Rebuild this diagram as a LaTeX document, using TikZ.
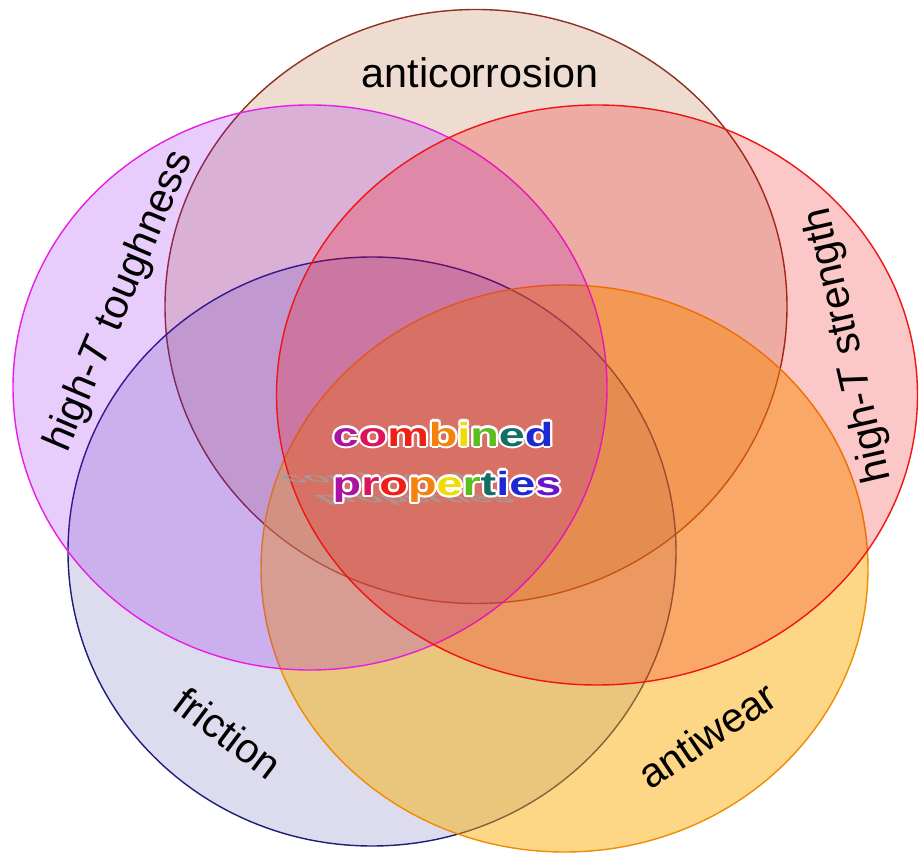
\documentclass[tikz,border=0pt]{standalone}
\usepackage{fontspec}
\setmainfont{Liberation Sans}
\usetikzlibrary{calc}

\definecolor{corrfill}{RGB}{160,60,0}
\definecolor{corrline}{RGB}{140,50,30}
\definecolor{toughfill}{RGB}{140,0,240}
\definecolor{toughline}{RGB}{230,30,230}
\definecolor{strengthfill}{RGB}{240,0,0}
\definecolor{strengthline}{RGB}{240,20,20}
\definecolor{frictionfill}{RGB}{60,60,160}
\definecolor{frictionline}{RGB}{30,30,120}
\definecolor{wearfill}{RGB}{250,172,0}
\definecolor{wearline}{RGB}{240,140,0}

% rainbow letters
\definecolor{rbA}{RGB}{170,20,160}
\definecolor{rbB}{RGB}{220,20,90}
\definecolor{rbC}{RGB}{240,30,20}
\definecolor{rbD}{RGB}{245,130,10}
\definecolor{rbE}{RGB}{240,220,0}
\definecolor{rbF}{RGB}{90,190,30}
\definecolor{rbG}{RGB}{20,110,100}
\definecolor{rbH}{RGB}{30,40,210}
\definecolor{rbI}{RGB}{110,20,200}

\newif\ifwhiteglow
\newcommand\rbl[2]{\ifwhiteglow#2\else\textcolor{#1}{#2}\fi}
\newcommand\combinedtext{%
  \rbl{rbA}{c}\rbl{rbB}{o}\rbl{rbC}{m}\rbl{rbD}{b}\rbl{rbE}{i}\rbl{rbF}{n}\rbl{rbG}{e}\rbl{rbH}{d}\\
  \rbl{rbA}{p}\rbl{rbB}{r}\rbl{rbC}{o}\rbl{rbD}{p}\rbl{rbE}{e}\rbl{rbF}{r}\rbl{rbG}{t}\rbl{rbH}{i}\rbl{rbH}{e}\rbl{rbI}{s}}

\begin{document}
\begin{tikzpicture}[
    setline/.style={line width=0.8pt},
    setlabel/.style={font=\fontsize{23.5}{28}\selectfont, inner sep=0pt},
    combo/.style={font=\bfseries\fontsize{19}{28}\selectfont, align=left, xscale=1.4, inner sep=0pt}
  ]
  \useasboundingbox (0,0) rectangle (18.38,17.08);

  % Centres of the five sets
  \coordinate (corr) at (9.52,10.95);
  \coordinate (tough) at (6.20,9.33);
  \coordinate (strength) at (11.94,9.18);
  \coordinate (friction) at (7.44,6.05);
  \coordinate (wear) at (11.29,5.71);

  % Draw ellipses
  \draw[setline, draw=corrline, fill=corrfill, fill opacity=0.18] (corr) ellipse [x radius=6.22, y radius=5.94];
  \draw[setline, draw=frictionline, fill=frictionfill, fill opacity=0.18] (friction) ellipse [x radius=6.08, y radius=5.89];
  \draw[setline, draw=wearline, fill=wearfill, fill opacity=0.48] (wear) ellipse [x radius=6.07, y radius=5.67];
  \draw[setline, draw=toughline, fill=toughfill, fill opacity=0.2] (tough) ellipse [x radius=5.94, y radius=5.65];
  \draw[setline, draw=strengthline, fill=strengthfill, fill opacity=0.22] (strength) ellipse [x radius=6.41, y radius=5.80];

  % Set labels
  \node[setlabel] (corrlabel) at (9.60,15.62) {anticorrosion};
  \node[setlabel, rotate=67] (toughlabel) at (2.40,11.05) {high-\textit{T} toughness};
  \node[setlabel, rotate=103] (strengthlabel) at (16.98,10.18) {high-\textit{T} strength};
  \node[setlabel, rotate=-37] (frictionlabel) at (4.56,2.42) {friction};
  \node[setlabel, rotate=34] (wearlabel) at (14.14,2.38) {antiwear};

  % Combined properties with glow and shadow
  \coordinate (comboc) at (8.94,7.84);
  \global\whiteglowtrue
  \node[combo, text=gray!75, opacity=0.8, xscale=0.85, yscale=0.4, xslant=-0.6] (comboshadow) at (7.95,7.30) {\combinedtext};
  \foreach \ang in {0,30,...,330}
    \node[combo, text=white] at ($(comboc)+(\ang:0.045)$) {\combinedtext};
  \global\whiteglowfalse
  \node[combo] (combo) at (comboc) {\combinedtext};
\end{tikzpicture}
\end{document}
